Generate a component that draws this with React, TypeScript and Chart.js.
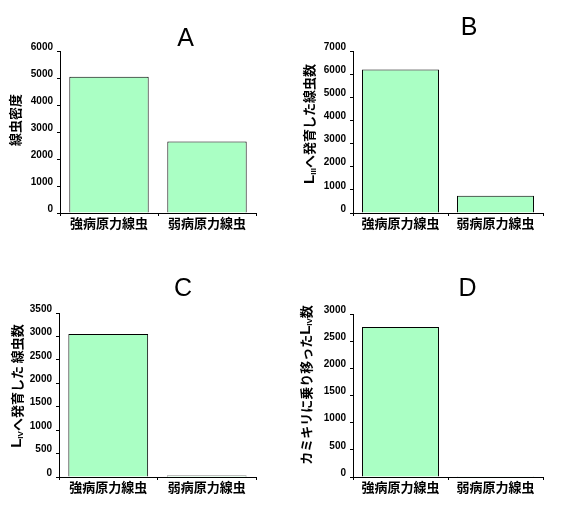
import React, { useEffect, useRef } from 'react';
import { Chart, registerables } from 'chart.js';

Chart.register(...registerables);

// categories and values
const categories = ['強病原力線虫', '弱病原力線虫'];
const valuesA = [5050, 2650];
const valuesB = [6200, 750];
const valuesC = [3050, 30];
const valuesD = [2760, 15];

// y axis ranges (max, step)
const yMaxA = 6000, yStepA = 1000;
const yMaxB = 7000, yStepB = 1000;
const yMaxC = 3500, yStepC = 500;
const yMaxD = 3000, yStepD = 500;

type Seg = { t: string; sub?: boolean };

const titleA: Seg[] = [{ t: '線虫密度' }];
const titleB: Seg[] = [{ t: 'L' }, { t: 'III', sub: true }, { t: 'へ発育した線虫数' }];
const titleC: Seg[] = [{ t: 'L' }, { t: 'IV', sub: true }, { t: 'へ発育した 線虫数' }];
const titleD: Seg[] = [{ t: 'カミキリに乗り移った' }, { t: 'L' }, { t: 'IV', sub: true }, { t: '数' }];

const W = 291;
const H = 255;
const BAR_GREEN = '#aaffc4';
const JP = '"Noto Sans CJK JP", "Noto Sans", sans-serif';

type Area = { left: number; right: number; top: number; bottom: number };

interface PanelProps {
  letter: string;
  letterPos: [number, number];
  values: number[];
  yMax: number;
  yStep: number;
  yTitle: Seg[];
  yTitlePos: [number, number];
  area: Area;
  x: number;
  y: number;
}

const Panel: React.FC<PanelProps> = (p) => {
  const canvasRef = useRef<HTMLCanvasElement>(null);

  useEffect(() => {
    if (!canvasRef.current) return;

    // panel letter and rotated y title with subscripts
    const labelsPlugin = {
      id: 'panelLabels',
      afterDraw(chart: Chart) {
        const ctx = chart.ctx;
        ctx.save();
        ctx.fillStyle = '#000';
        ctx.textAlign = 'center';
        ctx.textBaseline = 'middle';
        ctx.font = '25px "Liberation Sans", Arial, sans-serif';
        ctx.fillText(p.letter, p.letterPos[0], p.letterPos[1]);

        ctx.translate(p.yTitlePos[0], p.yTitlePos[1]);
        ctx.rotate(-Math.PI / 2);
        ctx.textAlign = 'left';
        const fontFor = (s: Seg) => {
          if (s.sub) return 'bold 8px "Liberation Sans", Arial, sans-serif';
          if (s.t === 'L') return 'bold 15px "Liberation Sans", Arial, sans-serif';
          return 'bold 13px ' + JP;
        };
        let total = 0;
        p.yTitle.forEach((s) => {
          ctx.font = fontFor(s);
          total += ctx.measureText(s.t).width;
        });
        let cx = -total / 2;
        p.yTitle.forEach((s) => {
          ctx.font = fontFor(s);
          ctx.fillText(s.t, cx, s.sub ? 4 : 0);
          cx += ctx.measureText(s.t).width;
        });
        ctx.restore();
      },
    };

    const chart = new Chart(canvasRef.current, {
      type: 'bar',
      data: {
        labels: categories,
        datasets: [
          {
            data: p.values,
            backgroundColor: BAR_GREEN,
            borderColor: '#000',
            borderWidth: 1,
            barPercentage: 0.81,
            categoryPercentage: 1,
          },
        ],
      },
      options: {
        responsive: false,
        animation: false,
        devicePixelRatio: 1,
        layout: {
          padding: { left: 0, right: W - p.area.right, top: p.area.top, bottom: 0 },
        },
        plugins: {
          legend: { display: false },
          tooltip: { enabled: false },
        },
        scales: {
          x: {
            grid: { display: true, drawOnChartArea: false, drawTicks: true, tickLength: 3, color: '#000' },
            border: { display: true, color: '#000', width: 1 },
            ticks: {
              color: '#000',
              padding: -1,
              maxRotation: 0,
              font: { family: JP, size: 13, weight: 'bold' },
            },
            afterFit: (s: any) => {
              s.height = H - p.area.bottom;
            },
          },
          y: {
            min: 0,
            max: p.yMax,
            grid: { display: true, drawOnChartArea: false, drawTicks: true, tickLength: 3, color: '#000' },
            border: { display: true, color: '#000', width: 1 },
            ticks: {
              stepSize: p.yStep,
              color: '#000',
              padding: 4,
              labelOffset: -4,
              callback: (v: any) => String(v),
              font: { family: '"Liberation Sans", Arial, sans-serif', size: 10, weight: 'bold' },
            },
            afterFit: (s: any) => {
              s.width = p.area.left;
            },
          },
        },
      },
      plugins: [labelsPlugin],
    });

    return () => {
      chart.destroy();
    };
  }, []);

  return (
    <div style={{ position: 'absolute', left: p.x, top: p.y, width: W, height: H }}>
      <canvas ref={canvasRef} width={W} height={H} />
    </div>
  );
};

const App: React.FC = () => {
  return (
    <div style={{ position: 'absolute', left: 0, top: 0, width: 582, height: 510, background: '#fff' }}>
      <Panel
        letter="A"
        letterPos={[185.5, 39]}
        values={valuesA}
        yMax={yMaxA}
        yStep={yStepA}
        yTitle={titleA}
        yTitlePos={[15.5, 120]}
        area={{ left: 60, right: 256, top: 51, bottom: 213 }}
        x={0}
        y={0}
      />
      <Panel
        letter="B"
        letterPos={[178, 28]}
        values={valuesB}
        yMax={yMaxB}
        yStep={yStepB}
        yTitle={titleB}
        yTitlePos={[18.5, 124]}
        area={{ left: 62, right: 252, top: 51, bottom: 213 }}
        x={291}
        y={0}
      />
      <Panel
        letter="C"
        letterPos={[183, 34]}
        values={valuesC}
        yMax={yMaxC}
        yStep={yStepC}
        yTitle={titleC}
        yTitlePos={[17, 131]}
        area={{ left: 59, right: 256, top: 58, bottom: 222 }}
        x={0}
        y={255}
      />
      <Panel
        letter="D"
        letterPos={[176.5, 34]}
        values={valuesD}
        yMax={yMaxD}
        yStep={yStepD}
        yTitle={titleD}
        yTitlePos={[15, 130]}
        area={{ left: 62, right: 252, top: 59, bottom: 222 }}
        x={291}
        y={255}
      />
    </div>
  );
};

export default App;
